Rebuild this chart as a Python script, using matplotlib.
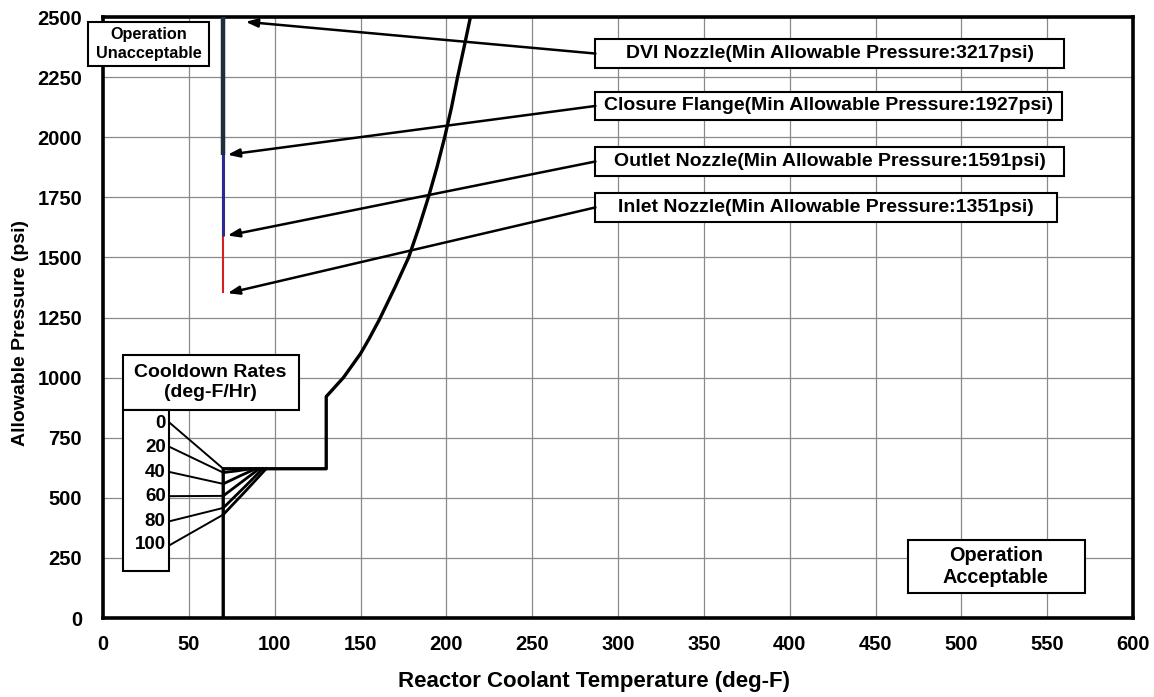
import numpy as np
import matplotlib
matplotlib.use("Agg")
import matplotlib.pyplot as plt
from matplotlib.patches import Rectangle

plt.rcParams['font.family'] = ['Liberation Sans', 'DejaVu Sans']
plt.rcParams['font.weight'] = 'bold'

# heatup/cooldown limit curve (deg-F, psi)
temp_curve = [70, 70, 130, 130, 140, 145, 150, 155, 161, 170, 178, 184, 189.5, 194.5, 199, 203, 206.5, 210.3, 214, 217.5]
press_curve = [0, 621, 621, 921, 1000, 1050, 1100, 1162, 1242, 1375, 1500, 1625, 1750, 1875, 2000, 2125, 2250, 2375, 2500, 2625]

# cooldown rate branches (deg-F/Hr)
rates = [0, 20, 40, 60, 80, 100]
rate_temps = [[70, 70],
              [70, 78, 86],
              [70, 80, 89],
              [70, 80, 91],
              [70, 82, 93],
              [70, 83, 95]]
rate_press = [[621, 621],
              [605, 612, 621],
              [558, 592, 621],
              [508, 562, 621],
              [458, 542, 621],
              [430, 528, 621]]
rate_label_press = [811, 711, 607, 507, 403, 304]

# nozzle minimum allowable pressures
nozzles = ['DVI Nozzle', 'Closure Flange', 'Outlet Nozzle', 'Inlet Nozzle']
nozzle_press = [3217, 1927, 1591, 1351]
nozzle_box_y = [2348, 2130, 1899, 1708]
nozzle_colors = ['#1c2f3a', '#1c2f3a', '#2a2a90', '#d42020']
nozzle_widths = [3.2, 3.2, 2.2, 1.5]
t_min = 70

xticks = np.arange(0, 601, 50)
yticks = np.arange(0, 2501, 250)

fig = plt.figure(figsize=(11.54, 6.97), dpi=100)
ax = fig.add_axes([0.0893, 0.1133, 0.8926, 0.8623])
ax.set_xlim(0, 600)
ax.set_ylim(0, 2500)
ax.set_xticks(xticks)
ax.set_yticks(yticks)
ax.tick_params(length=0, labelsize=14.5)
ax.tick_params(axis='x', pad=12)
ax.tick_params(axis='y', pad=15)
for lab in ax.get_xticklabels() + ax.get_yticklabels():
    lab.set_fontweight('bold')
ax.grid(True, color='#8a8a8a', lw=0.9)
ax.set_axisbelow(True)
for s in ax.spines.values():
    s.set_linewidth(2.6)

ax.set_xlabel('Reactor Coolant Temperature (deg-F)', fontsize=16, fontweight='bold')
ax.set_ylabel('Allowable Pressure (psi)', fontsize=14, fontweight='bold')
ax.xaxis.set_label_coords(0.477, -0.088)
ax.yaxis.set_label_coords(-0.072, 0.475)

# nozzle vertical segments, drawn low-pressure first
for p, c, w in sorted(zip(nozzle_press, nozzle_colors, nozzle_widths)):
    ax.plot([t_min, t_min], [p, 2600], color=c, lw=w, solid_capstyle='butt', zorder=3)

ax.plot(temp_curve, press_curve, color='black', lw=2.4, zorder=4)
for tt, pp in zip(rate_temps, rate_press):
    ax.plot(tt, pp, color='black', lw=2.0, zorder=4)

# cooldown legend boxes
ax.add_patch(Rectangle((11.6, 865), 102.4, 229, fc='white', ec='black', lw=1.5, zorder=5))
ax.text(62.6, 980, 'Cooldown Rates\n(deg-F/Hr)', ha='center', va='center', fontsize=14,
        fontweight='bold', linespacing=1.25, zorder=6)
ax.add_patch(Rectangle((11.6, 195), 26.6, 670, fc='white', ec='black', lw=1.5, zorder=5))
for r, py, tt, pp in zip(rates, rate_label_press, rate_temps, rate_press):
    ax.text(36.5, py, str(r), ha='right', va='center', fontsize=13.5, fontweight='bold', zorder=6)
    ax.plot([39, tt[0]], [py, pp[0]], color='black', lw=1.4, zorder=4)

# region boxes
ax.add_patch(Rectangle((-8.7, 2296), 70.7, 183, fc='white', ec='black', lw=1.5, zorder=5, clip_on=False))
ax.text(26.7, 2388, 'Operation\nUnacceptable', ha='center', va='center', fontsize=11.7,
        fontweight='bold', linespacing=1.4, zorder=6)
ax.add_patch(Rectangle((469, 104), 103, 220, fc='white', ec='black', lw=1.5, zorder=5))
ax.text(520, 214, 'Operation\nAcceptable', ha='center', va='center', fontsize=14.3,
        fontweight='bold', linespacing=1.2, zorder=6)

# nozzle annotation boxes and arrows
box_w = [273, 272, 273, 269]
for name, p, by, bw in zip(nozzles, nozzle_press, nozzle_box_y, box_w):
    ax.add_patch(Rectangle((286.8, by - 60), bw, 120, fc='white', ec='black', lw=1.5, zorder=5))
    ax.text(286.8 + bw / 2, by, f'{name}(Min Allowable Pressure:{p}psi)', ha='center', va='center',
            fontsize=14, fontweight='bold', zorder=6)
    tip = (83, 2480) if p > 2500 else (72.5, p)
    ax.annotate('', xy=tip, xytext=(286.8, by), zorder=6,
                arrowprops=dict(arrowstyle='-|>,head_length=0.7,head_width=0.25', color='black',
                                lw=1.8, shrinkA=0, shrinkB=0))

fig.savefig('out.png', dpi=100)
